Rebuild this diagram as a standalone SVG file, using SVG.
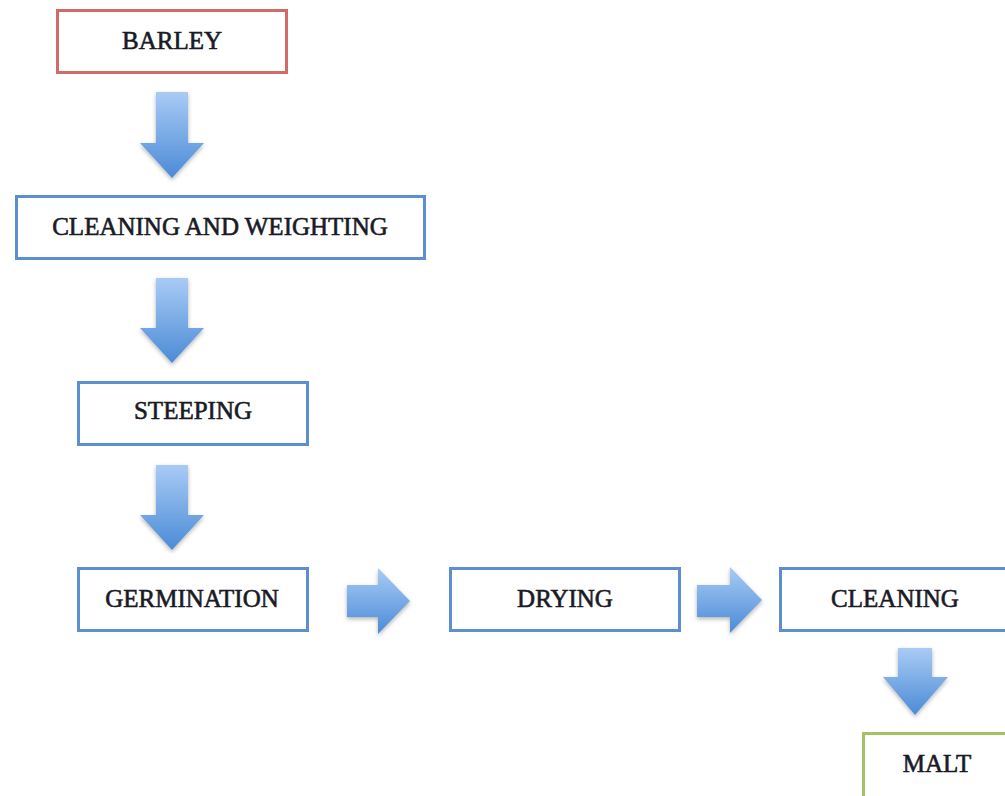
<svg xmlns="http://www.w3.org/2000/svg" width="1005" height="796" viewBox="0 0 1005 796">
<style>
.box{fill:#fff;stroke-width:3}
.blue{stroke:#5b8fcf}
.red{stroke:#d36a6a}
.green{stroke:#a3c265}
.lbl{font-family:"Liberation Serif","Times New Roman",serif;font-size:25px;fill:#1a1a26;stroke:#1a1a26;stroke-width:0.6;text-anchor:middle}
.arr{fill:url(#g);filter:url(#sh)}
</style>
<defs>
<linearGradient id="g" x1="0" y1="0" x2="0" y2="1">
<stop offset="0" stop-color="#a9cbf5"/>
<stop offset="1" stop-color="#4b8bd6"/>
</linearGradient>
<filter id="sh" x="-30%" y="-30%" width="160%" height="160%">
<feDropShadow dx="0" dy="2" stdDeviation="2" flood-color="#000" flood-opacity="0.3"/>
</filter>
</defs>
<g id="connectors">
<path class="arr" d="M156,92 H188 V143 H204 L172,178 L140,143 H156 Z"/>
<path class="arr" d="M156,278 H188 V328 H204 L172,363 L140,328 H156 Z"/>
<path class="arr" d="M156,465 H188 V515 H204 L172,550 L140,515 H156 Z"/>
<path class="arr" d="M898,648 H932 V677 H948 L915,715 L883,677 H898 Z"/>
<path class="arr" d="M347,585 H378 V568 L410,601 L378,634 V617 H347 Z"/>
<path class="arr" d="M697,585 H730 V567 L762,600 L730,633 V617 H697 Z"/>
</g>
<g id="barley"><rect class="box red" x="57.5" y="10.5" width="229" height="62"/><text class="lbl" x="172" y="49">BARLEY</text></g>
<g id="cleaning-weighting"><rect class="box blue" x="16.5" y="196.5" width="408" height="62"/><text class="lbl" x="220" y="235">CLEANING AND WEIGHTING</text></g>
<g id="steeping"><rect class="box blue" x="78.5" y="382.5" width="229" height="62"/><text class="lbl" x="193" y="419">STEEPING</text></g>
<g id="germination"><rect class="box blue" x="78.5" y="568.5" width="229" height="62"/><text class="lbl" x="192" y="607">GERMINATION</text></g>
<g id="drying"><rect class="box blue" x="450.5" y="568.5" width="229" height="62"/><text class="lbl" x="565" y="607">DRYING</text></g>
<g id="cleaning"><rect class="box blue" x="780.5" y="568.5" width="232" height="62"/><text class="lbl" x="895" y="607">CLEANING</text></g>
<g id="malt"><rect class="box green" x="863.5" y="733.5" width="150" height="64"/><text class="lbl" x="937" y="772">MALT</text></g>
</svg>
